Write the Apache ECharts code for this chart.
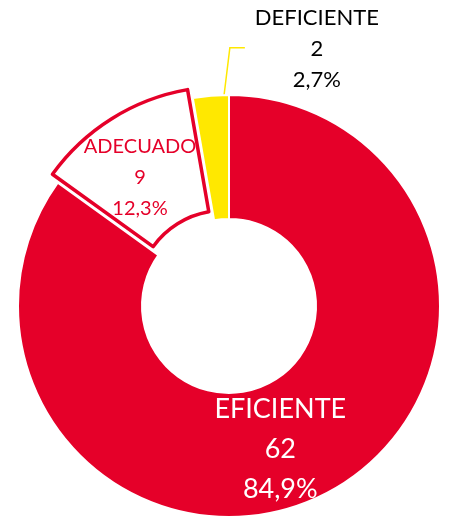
<!DOCTYPE html>
<html>
<head>
<meta charset="utf-8">
<script src="https://cdn.jsdelivr.net/npm/echarts@6/dist/echarts.min.js"></script>
<style>
  html, body { margin: 0; padding: 0; background: #fff; }
  #chart { width: 449px; height: 518px; }
</style>
</head>
<body>
<div id="chart"></div>
<script>
// data
const categories = ['EFICIENTE', 'ADECUADO', 'DEFICIENTE']
const counts = [62, 9, 2]

const RED = '#E50029'
const YELLOW = '#FFE800'

const myChart = echarts.init(document.getElementById('chart'))

function pct (p) {
  return p.toFixed(1).replace('.', ',') + '%'
}

const seriesData = [
  {
    name: categories[0],
    value: counts[0],
    itemStyle: { color: RED },
    label: { position: 'inside', color: '#fff', fontSize: 27, lineHeight: 40 },
    labelLine: { show: false }
  },
  {
    name: categories[1],
    value: counts[1],
    selected: true,
    itemStyle: { color: '#fff', borderColor: RED, borderWidth: 3.5 },
    label: { position: 'inside', color: RED, fontSize: 20, lineHeight: 31 },
    labelLine: { show: false }
  },
  {
    name: categories[2],
    value: counts[2],
    itemStyle: { color: YELLOW },
    label: { position: 'outside', color: '#000', fontSize: 22, lineHeight: 31 },
    labelLine: { show: true, length: 48, length2: 14, lineStyle: { color: YELLOW, width: 1.5 } }
  }
]

myChart.setOption({
  animation: false,
  series: [{
    type: 'pie',
    center: [229, 306],
    radius: [87, 211],
    startAngle: 90,
    clockwise: true,
    selectedMode: 'single',
    selectedOffset: 10,
    avoidLabelOverlap: false,
    itemStyle: { borderColor: '#fff', borderWidth: 2 },
    label: {
      fontFamily: 'Lato',
      formatter: function (params) {
        return params.name + '\n' + params.value + '\n' + pct(params.percent)
      }
    },
    emphasis: { disabled: true },
    labelLayout: function (params) {
      if (params.dataIndex === 0) {
        return { dx: -18, dy: 8 }
      }
      if (params.dataIndex === 1) {
        return { dx: -3, dy: 9 }
      }
      if (params.dataIndex === 2 && params.labelLinePoints) {
        const p = params.labelLinePoints[0]
        return {
          x: p[0] + 106,
          y: p[1] - 47,
          align: 'center',
          verticalAlign: 'middle',
          labelLinePoints: [
            [p[0] + 13, p[1] + 1],
            [p[0] + 19, p[1] - 48],
            [p[0] + 34, p[1] - 48]
          ]
        }
      }
      return {}
    },
    data: seriesData
  }]
})
</script>
</body>
</html>
